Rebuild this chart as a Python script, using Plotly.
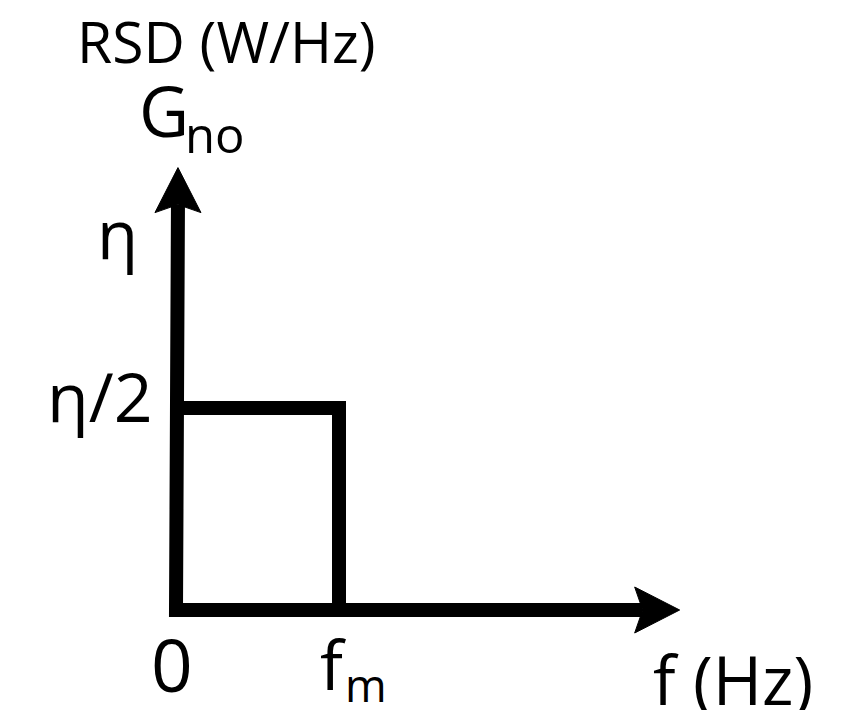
import plotly.graph_objects as go

# ---- data (diagram values) ----
freq_band = [0.0, 1.0, 1.0]          # 0 -> f_m -> f_m
psd_band = [1.0, 1.0, 0.0]           # eta/2 level, then drop to 0
x_axis_end = 3.09                    # f axis arrow tip (units of f_m)
y_axis_end = 2.19                    # G axis arrow tip (units of eta/2)
x_tick_labels = ["0", "f", "m"]
y_tick_labels = ["η/2", "η"]
y_title = "RSD (W/Hz)"
y_sym = ["G", "no"]
x_title = "f (Hz)"

# ---- layout constants (pixels, page coordinates) ----
PAGE_W, PAGE_H = 862, 718
OFF = 8                               # default body margin of the html page
W, H = PAGE_W - 2 * OFF, PAGE_H - 2 * OFF
X0_PX, SX = 176, 163.0
Y0_PX, SY = 610, 202.0
LW = 14
HEAD_LEN, HEAD_HALF, NOTCH = 45, 23, 8
FONT = "Open Sans"

# data range so that page pixel p maps through figure pixel (p - OFF)
xr = [(OFF - X0_PX) / SX, (OFF + W - X0_PX) / SX]
yr = [(Y0_PX - (OFF + H)) / SY, (Y0_PX - OFF) / SY]

hl_x = HEAD_LEN / SX
hh_x = HEAD_HALF / SY
n_x = NOTCH / SX
hl_y = HEAD_LEN / SY
hh_y = HEAD_HALF / SX
n_y = NOTCH / SY

fig = go.Figure()

ytip_x = 0.012
# axes (L shape)
fig.add_trace(go.Scatter(
    x=[ytip_x, 0, x_axis_end - hl_x + n_x],
    y=[y_axis_end - hl_y + n_y, 0, 0],
    mode="lines", line=dict(color="black", width=LW),
    hoverinfo="skip", showlegend=False))

# band-limited spectrum
fig.add_trace(go.Scatter(
    x=freq_band, y=psd_band,
    mode="lines", line=dict(color="black", width=LW),
    hoverinfo="skip", showlegend=False))

# arrowheads
fig.add_trace(go.Scatter(
    x=[ytip_x, ytip_x - hh_y, ytip_x, ytip_x + hh_y, ytip_x],
    y=[y_axis_end, y_axis_end - hl_y, y_axis_end - hl_y + n_y, y_axis_end - hl_y, y_axis_end],
    mode="lines", fill="toself", fillcolor="black", line=dict(color="black", width=1),
    hoverinfo="skip", showlegend=False))
fig.add_trace(go.Scatter(
    x=[x_axis_end, x_axis_end - hl_x, x_axis_end - hl_x + n_x, x_axis_end - hl_x, x_axis_end],
    y=[0, hh_x, 0, -hh_x, 0],
    mode="lines", fill="toself", fillcolor="black", line=dict(color="black", width=1),
    hoverinfo="skip", showlegend=False))

ASC = 0.388  # baseline offset below box centre (em)


def text_at(txt, cx, baseline, size):
    cy = baseline - ASC * size
    fig.add_annotation(
        x=(cx - OFF) / W, y=1 - (cy - OFF) / H, xref="paper", yref="paper",
        text=txt, showarrow=False, xanchor="center", yanchor="middle",
        font=dict(family=FONT, size=size, color="black"))


text_at(y_title, 226, 63, 57)
text_at(y_sym[0], 164, 137, 69)
text_at(y_sym[1], 215, 153, 49)
text_at(y_tick_labels[1], 117, 259, 67)
text_at(y_tick_labels[0], 100, 422, 68)
text_at(x_tick_labels[0], 172, 692, 73)
text_at(x_tick_labels[1], 333, 690, 68)
text_at(x_tick_labels[2], 366, 702, 45)
text_at(x_title, 733, 705, 67)

fig.update_layout(
    width=W, height=H, margin=dict(l=0, r=0, t=0, b=0),
    paper_bgcolor="white", plot_bgcolor="white",
    xaxis=dict(range=xr, visible=False, fixedrange=True),
    yaxis=dict(range=yr, visible=False, fixedrange=True),
    showlegend=False)

fig.write_html("out.html")
